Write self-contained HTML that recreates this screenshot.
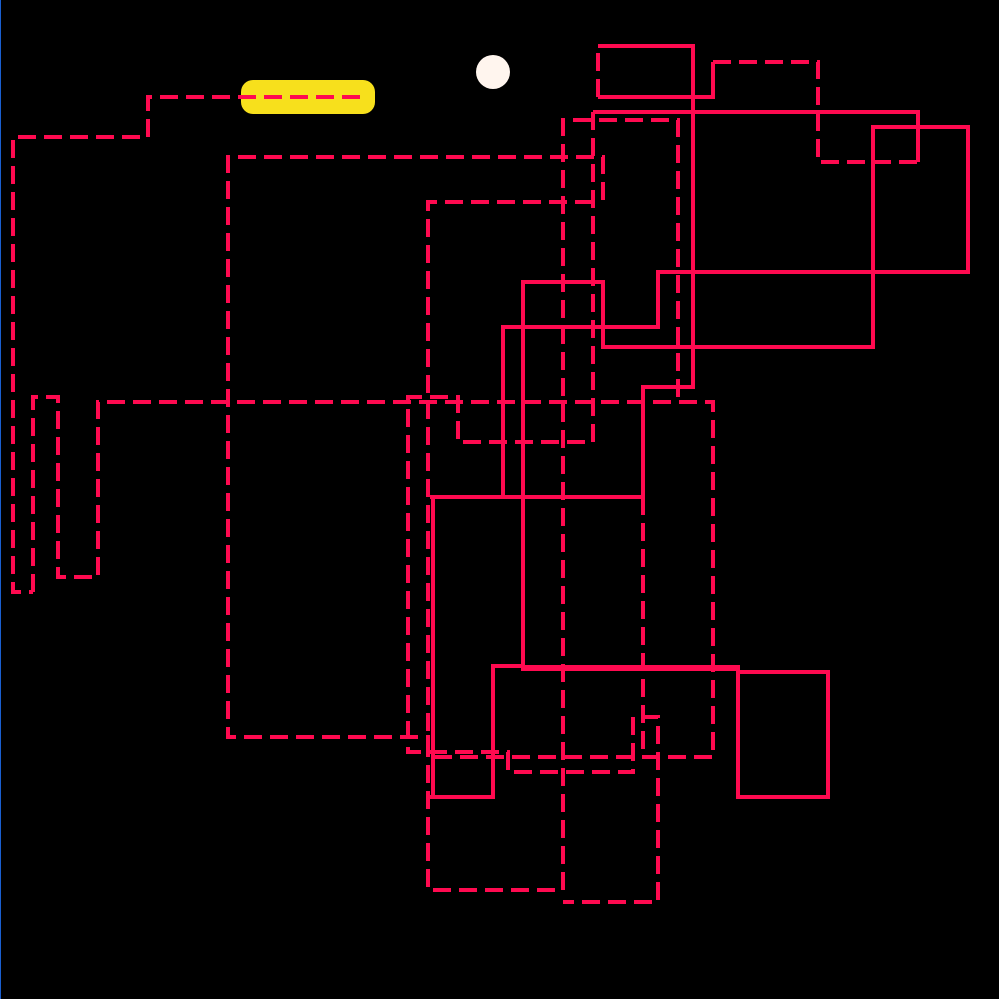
<!DOCTYPE html>
<html><head><meta charset="utf-8"><style>html,body{margin:0;padding:0;background:#000;width:999px;height:999px;overflow:hidden}</style></head>
<body>
<svg width="999" height="999" viewBox="0 0 999 999" xmlns="http://www.w3.org/2000/svg">
<rect width="999" height="999" fill="#000"/>
<line x1="0.5" y1="0" x2="0.5" y2="999" stroke="#1a5fd0" stroke-width="1"/>
<rect x="241" y="80" width="134" height="34" rx="12" fill="#f7e01c"/>
<circle cx="493" cy="72" r="17" fill="#fff5ee"/>
<g fill="none" stroke="#ff0a50" stroke-width="4">
<g stroke-dasharray="18 8">
<polyline points="360,97 148,97 148,137 13,137 13,592 33,592"/>
<polyline points="33,592 33,397 58,397 58,577 98,577 98,402 713,402 713,757 428,757"/>
<polyline points="603,200 603,157 228,157 228,737 430,737"/>
<polyline points="593,202 428,202 428,890 563,890 563,120 678,120 678,402"/>
<polyline points="598,97 598,46"/>
<polyline points="713,62 818,62 818,162 918,162"/>
<polyline points="643,497 643,757"/>
<polyline points="593,112 593,442 458,442 458,397 408,397 408,752 510,752"/>
<polyline points="508,752 508,772 633,772 633,717 658,717 658,902 563,902"/>
</g>
<polyline points="598,46 693,46 693,387 643,387 643,497"/>
<polyline points="598,97 713,97 713,62"/>
<polyline points="593,112 918,112 918,162"/>
<rect x="873" y="127" width="95" height="145"/>
<polyline points="968,272 658,272 658,327 503,327 503,497"/>
<polyline points="430,497 643,497"/>
<polyline points="523,668 523,282 603,282 603,347 873,347 873,272"/>
<line x1="521" y1="668" x2="740" y2="668" stroke-width="6"/>
<rect x="738" y="672" width="90" height="125"/>
<polyline points="523,666 493,666 493,797 428,797"/>
<line x1="433" y1="497" x2="433" y2="797"/>
</g>
</svg>
</body></html>
